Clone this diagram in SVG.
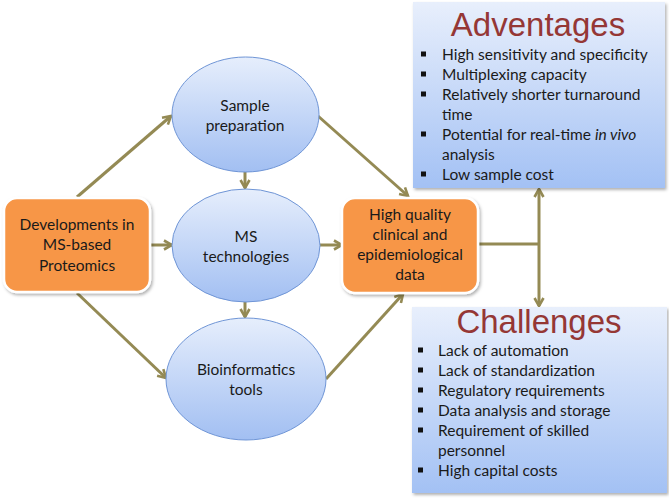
<svg xmlns="http://www.w3.org/2000/svg" width="669" height="498" viewBox="0 0 669 498">
<defs>
  <linearGradient id="gEll" x1="0" y1="0" x2="0" y2="1">
    <stop offset="0" stop-color="#e6eefc"/>
    <stop offset="1" stop-color="#a2bff2"/>
  </linearGradient>
  <linearGradient id="gBox" x1="0" y1="0" x2="0" y2="1">
    <stop offset="0" stop-color="#e8effc"/>
    <stop offset="1" stop-color="#a3c1f4"/>
  </linearGradient>
  <filter id="sh" x="-10%" y="-10%" width="125%" height="125%">
    <feDropShadow dx="1.5" dy="2" stdDeviation="1.5" flood-color="#000" flood-opacity="0.3"/>
  </filter>
  <marker id="ah" viewBox="0 0 12 12" refX="10" refY="6" markerWidth="12" markerHeight="12" markerUnits="userSpaceOnUse" orient="auto">
    <path d="M2,1.5 L10,6 L2,10.5" fill="none" stroke="#948a54" stroke-width="2.6" stroke-linejoin="miter"/>
  </marker>
  <style>
    .ell { fill: url(#gEll); stroke: #6f95d6; stroke-width: 1; }
    .org { fill: #f79646; stroke: #ffffff; stroke-width: 2.5; filter: url(#sh); }
    .blu { fill: url(#gBox); filter: url(#sh); }
    .t { font-family: Lato, "Open Sans", sans-serif; font-size: 15.5px; fill: #1a1a1a; }
    .c { text-anchor: middle; }
    .ttl { font-family: "Liberation Sans", Arial, sans-serif; font-size: 33px; fill: #953735; text-anchor: middle; }
    .con { fill: none; stroke: #948a54; stroke-width: 3; }
    .arr { marker-end: url(#ah); }
    .bul { fill: #111; }
  </style>
</defs>

<g id="connectors">
  <line class="con arr" x1="77" y1="197" x2="171" y2="116"/>
  <line class="con arr" x1="150" y1="245" x2="172" y2="245"/>
  <line class="con arr" x1="77" y1="293" x2="166" y2="378"/>
  <line class="con arr" x1="245" y1="172" x2="245" y2="188"/>
  <line class="con arr" x1="245" y1="302" x2="245" y2="317"/>
  <line class="con arr" x1="318" y1="116" x2="408" y2="196"/>
  <line class="con arr" x1="320" y1="245" x2="342" y2="245"/>
  <line class="con arr" x1="326" y1="379" x2="403" y2="294"/>
  <line class="con" x1="478" y1="244" x2="539" y2="244"/>
  <line class="con arr" x1="539" y1="244" x2="539" y2="189"/>
  <line class="con arr" x1="539" y1="244" x2="539" y2="306"/>
</g>

<g id="developments">
  <rect class="org" x="4" y="198" width="146" height="94" rx="13"/>
  <text class="t c" x="77" y="230">Developments in</text>
  <text class="t c" x="77" y="250">MS-based</text>
  <text class="t c" x="77" y="271">Proteomics</text>
</g>

<g id="sample">
  <ellipse class="ell" cx="245.5" cy="114.5" rx="73.5" ry="57.5"/>
  <text class="t c" x="245" y="111">Sample</text>
  <text class="t c" x="245" y="131">preparation</text>
</g>

<g id="ms">
  <ellipse class="ell" cx="246" cy="245.5" rx="74" ry="56.5"/>
  <text class="t c" x="246" y="242">MS</text>
  <text class="t c" x="246" y="262">technologies</text>
</g>

<g id="bio">
  <ellipse class="ell" cx="246" cy="379" rx="80" ry="61"/>
  <text class="t c" x="246" y="375">Bioinformatics</text>
  <text class="t c" x="246" y="395">tools</text>
</g>

<g id="highquality">
  <rect class="org" x="342" y="198" width="136" height="95" rx="13"/>
  <text class="t c" x="410" y="220">High quality</text>
  <text class="t c" x="410" y="240">clinical and</text>
  <text class="t c" x="410" y="260">epidemiological</text>
  <text class="t c" x="410" y="280">data</text>
</g>

<g id="advantages">
  <rect class="blu" x="413" y="2" width="252" height="186"/>
  <text class="ttl" x="538" y="36">Adventages</text>
  <rect class="bul" x="421" y="51.5" width="5" height="5"/>
  <rect class="bul" x="421" y="71.5" width="5" height="5"/>
  <rect class="bul" x="421" y="91.5" width="5" height="5"/>
  <rect class="bul" x="421" y="131.5" width="5" height="5"/>
  <rect class="bul" x="421" y="171.5" width="5" height="5"/>
  <text class="t" x="442" y="60">High sensitivity and specificity</text>
  <text class="t" x="442" y="80">Multiplexing capacity</text>
  <text class="t" x="442" y="100">Relatively shorter turnaround</text>
  <text class="t" x="442" y="120">time</text>
  <text class="t" x="442" y="140">Potential for real-time <tspan font-style="italic">in vivo</tspan></text>
  <text class="t" x="442" y="160">analysis</text>
  <text class="t" x="442" y="180">Low sample cost</text>
</g>

<g id="challenges">
  <rect class="blu" x="412" y="307" width="255" height="186"/>
  <text class="ttl" x="539" y="333">Challenges</text>
  <rect class="bul" x="418" y="347.5" width="5" height="5"/>
  <rect class="bul" x="418" y="367.5" width="5" height="5"/>
  <rect class="bul" x="418" y="387.5" width="5" height="5"/>
  <rect class="bul" x="418" y="407.5" width="5" height="5"/>
  <rect class="bul" x="418" y="427.5" width="5" height="5"/>
  <rect class="bul" x="418" y="467.5" width="5" height="5"/>
  <text class="t" x="438" y="356">Lack of automation</text>
  <text class="t" x="438" y="376">Lack of standardization</text>
  <text class="t" x="438" y="396">Regulatory requirements</text>
  <text class="t" x="438" y="416">Data analysis and storage</text>
  <text class="t" x="438" y="436">Requirement of skilled</text>
  <text class="t" x="438" y="456">personnel</text>
  <text class="t" x="438" y="476">High capital costs</text>
</g>
</svg>
